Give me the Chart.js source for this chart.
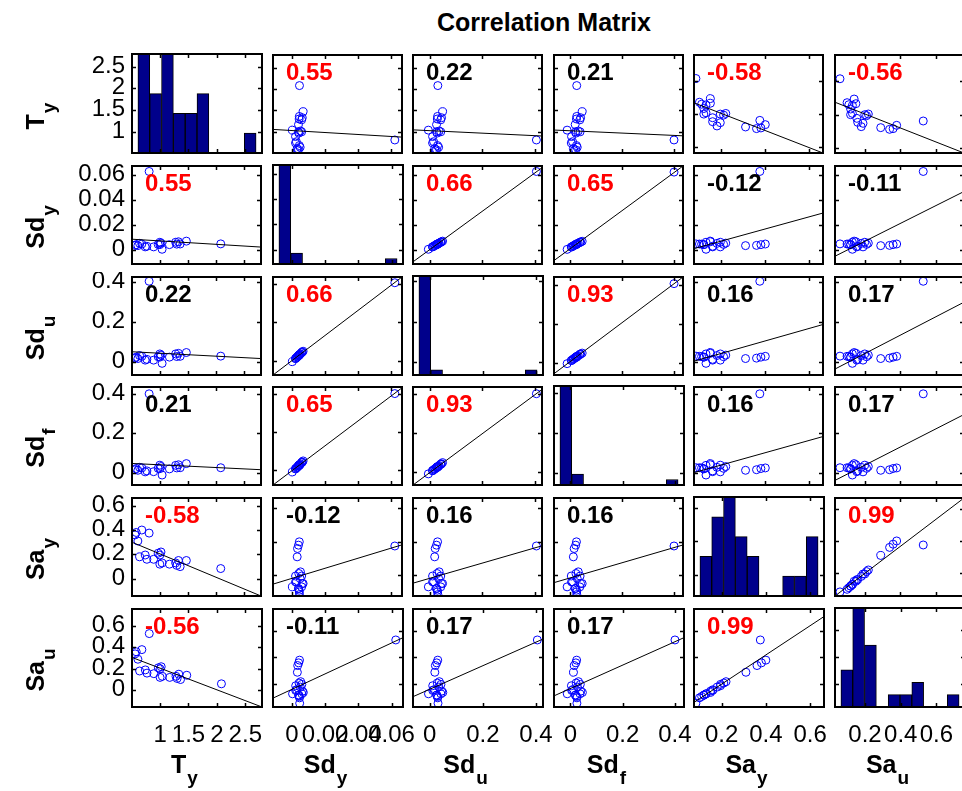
<!DOCTYPE html>
<html>
<head>
<meta charset="utf-8">
<title>Correlation Matrix</title>
<script src="https://cdn.jsdelivr.net/npm/chart.js@4.4.1/dist/chart.umd.min.js"></script>
<style>
  html, body { margin: 0; padding: 0; background: #fff; overflow: hidden; }
  #fig { position: relative; width: 962px; height: 791px; overflow: hidden; background: #fff; }
  #fig canvas { position: absolute; }
  #title { position: absolute; top: 10px; left: 544px; transform: translateX(-50%);
           font: bold 25px "Liberation Sans", Arial, sans-serif; line-height: 25px;
           white-space: nowrap; color: #000; }
</style>
</head>
<body>
<div id="fig"><div id="title">Correlation Matrix</div></div>
<script>
// one entry per record
const Ty  = [0.56, 0.58, 0.61, 0.64, 0.68, 0.81, 0.74, 0.77, 0.89, 1.00, 1.02, 1.00, 1.04, 1.17, 1.28, 1.30, 1.33, 1.36, 1.47, 2.08, 0.97];
const Sdy = [0.0035, 0.0041, 0.0033, 0.0051, 0.0046, 0.0625, 0.0023, 0.0028, 0.0023, 0.0060, 0.0053, 0.0041, 0.0004, 0.0041, 0.0060, 0.0045, 0.0064, 0.0046, 0.0069, 0.0047, 0.0043];
const Sdu = [0.021, 0.026, 0.019, 0.034, 0.030, 0.405, 0.011, 0.015, 0.011, 0.042, 0.036, 0.026, -0.005, 0.026, 0.042, 0.029, 0.045, 0.030, 0.049, 0.031, 0.028];
const Sdf = [0.015, 0.021, 0.012, 0.027, 0.024, 0.400, 0.004, 0.009, 0.005, 0.038, 0.031, 0.020, -0.012, 0.019, 0.037, 0.024, 0.040, 0.025, 0.046, 0.025, 0.022];
const Say = [0.36, 0.38, 0.31, 0.18, 0.40, 0.375, 0.195, 0.16, 0.16, 0.195, 0.22, 0.12, 0.13, 0.12, 0.13, 0.11, 0.15, 0.10, 0.15, 0.084, 0.21];
const Sau = [0.34, 0.36, 0.29, 0.18, 0.38, 0.53, 0.19, 0.16, 0.155, 0.20, 0.22, 0.12, 0.13, 0.12, 0.13, 0.11, 0.15, 0.10, 0.14, 0.06, 0.21];

const varNames = ['T', 'Sd', 'Sd', 'Sd', 'Sa', 'Sa'];
const varSubs  = ['y', 'y', 'u', 'f', 'y', 'u'];

// histogram edges (first / last) and counts, 10 bins each
const histLo = [0.61, -0.0078, -0.041, -0.040, 0.102, 0.065];
const histHi = [2.69, 0.0633, 0.404, 0.412, 0.636, 0.727];
const histTy  = [5, 3, 5, 2, 2, 3, 0, 0, 0, 1];
const histSdy = [18, 2, 0, 0, 0, 0, 0, 0, 0, 1];
const histSdu = [19, 1, 0, 0, 0, 0, 0, 0, 0, 1];
const histSdf = [18, 2, 0, 0, 0, 0, 0, 0, 0, 1];
const histSay = [2, 4, 5, 3, 2, 0, 0, 1, 1, 3];
const histSau = [3, 8, 5, 0, 1, 1, 2, 0, 0, 1];

// coefficients printed in the panels (row by row)
const corrTy  = [null, 0.55, 0.22, 0.21, -0.58, -0.56];
const corrSdy = [0.55, null, 0.66, 0.65, -0.12, -0.11];
const corrSdu = [0.22, 0.66, null, 0.93, 0.16, 0.17];
const corrSdf = [0.21, 0.65, 0.93, null, 0.16, 0.17];
const corrSay = [-0.58, -0.12, 0.16, 0.16, null, 0.99];
const corrSau = [-0.56, -0.11, 0.17, 0.17, 0.99, null];
const sigLevel = 0.43;

const series = [Ty, Sdy, Sdu, Sdf, Say, Sau];
const hists = [histTy, histSdy, histSdu, histSdf, histSay, histSau];
const corr = [corrTy, corrSdy, corrSdu, corrSdf, corrSay, corrSau];
const N = series.length;

// panel grid
const COL_X = [124, 265, 405, 546, 686, 827];
const ROW_Y = [54, 165, 276, 386, 497, 608];
const PW = 138, PH = 107, PAD = 4, FIG_H = 791;
const LABEL_ROOM = 34;   // bottom row canvases are wider so tick labels can spill over
const FONT = '"Liberation Sans", Arial, Helvetica, sans-serif';

function limits(k) {
  const span = histHi[k] - histLo[k];
  return [histLo[k] - 0.05 * span, histHi[k] + 0.05 * span];
}

function lsq(xs, ys) {
  const n = xs.length;
  const mx = xs.reduce((s, v) => s + v, 0) / n;
  const my = ys.reduce((s, v) => s + v, 0) / n;
  let sxy = 0, sxx = 0;
  for (let k = 0; k < n; k++) { sxy += (xs[k] - mx) * (ys[k] - my); sxx += (xs[k] - mx) ** 2; }
  const b = sxy / sxx;
  return x => my + b * (x - mx);
}

// smallest 1-2-5 step that leaves at most 4 ticks inside the range
function tickStep(min, max) {
  for (let e = -4; e <= 2; e++) {
    for (const m of [1, 2, 5]) {
      const s = m * Math.pow(10, e);
      const n = Math.floor(max / s + 1e-9) - Math.ceil(min / s - 1e-9) + 1;
      if (n <= 4) return s;
    }
  }
  return 1;
}

const fmt = v => String(parseFloat(v.toFixed(6)));

function axisCfg(min, max, pos) {
  return {
    type: 'linear', position: pos, min, max, offset: false, display: true,
    ticks: { display: false, stepSize: tickStep(min, max), includeBounds: false },
    grid: { display: false }, border: { display: false }
  };
}

function drawName(ctx, x, y, k, vertical) {
  const main = 'bold 25px ' + FONT, sub = 'bold 19px ' + FONT;
  ctx.save();
  ctx.translate(x, y);
  if (vertical) ctx.rotate(-Math.PI / 2);
  ctx.fillStyle = '#000';
  ctx.textAlign = 'left';
  ctx.textBaseline = 'alphabetic';
  ctx.font = main;
  const w1 = ctx.measureText(varNames[k]).width;
  ctx.font = sub;
  const w2 = ctx.measureText(varSubs[k]).width;
  const x0 = -(w1 + w2) / 2 - 9;
  ctx.font = main;
  ctx.fillText(varNames[k], x0, 0);
  ctx.font = sub;
  ctx.fillText(varSubs[k], x0 + w1 + 1, 11);
  ctx.restore();
}

const framePlugin = {
  id: 'frame',
  afterDraw(chart, args, o) {
    const ctx = chart.ctx, a = chart.chartArea;
    const xs = chart.scales.x, ys = chart.scales[o.tickAxis];
    ctx.save();
    // tick marks point inward on every side of the box
    ctx.strokeStyle = '#000';
    ctx.lineWidth = 1.5;
    ctx.beginPath();
    for (const t of xs.ticks) {
      const p = Math.round(xs.getPixelForValue(t.value)) + 0.5;
      ctx.moveTo(p, a.top); ctx.lineTo(p, a.top + 4);
      ctx.moveTo(p, a.bottom); ctx.lineTo(p, a.bottom - 4);
    }
    for (const t of ys.ticks) {
      const p = Math.round(ys.getPixelForValue(t.value)) + 0.5;
      ctx.moveTo(a.left, p); ctx.lineTo(a.left + 4, p);
      ctx.moveTo(a.right, p); ctx.lineTo(a.right - 4, p);
    }
    ctx.stroke();
    ctx.lineWidth = 2;
    ctx.strokeRect(a.left, a.top, a.right - a.left, a.bottom - a.top);

    const r = corr[o.row][o.col];
    if (r !== null) {
      ctx.font = 'bold 24px ' + FONT;
      ctx.fillStyle = Math.abs(r) >= sigLevel ? '#ff0000' : '#000';
      ctx.textAlign = 'left';
      ctx.textBaseline = 'alphabetic';
      ctx.fillText(r.toFixed(2), a.left + 13, a.top + 25);
    }

    ctx.fillStyle = '#000';
    ctx.font = '24px ' + FONT;
    ctx.textBaseline = 'alphabetic';
    if (o.col === 0) {
      ctx.textAlign = 'right';
      for (const t of ys.ticks) ctx.fillText(fmt(t.value), a.left - 7, ys.getPixelForValue(t.value) + 6);
      drawName(ctx, 43.5 - o.ox, ROW_Y[o.row] + PH / 2 - o.oy, o.row, true);
    }
    if (o.row === N - 1) {
      ctx.font = '24px ' + FONT;
      ctx.textAlign = 'center';
      for (const t of xs.ticks) ctx.fillText(fmt(t.value), xs.getPixelForValue(t.value), 742 - o.oy);
      drawName(ctx, COL_X[o.col] + PW / 2 - o.ox, 773 - o.oy, o.col, false);
    }
    ctx.restore();
  }
};

const fig = document.getElementById('fig');

for (let i = 0; i < N; i++) {
  for (let j = 0; j < N; j++) {
    const lastRow = i === N - 1;
    const left = j === 0 ? 0 : COL_X[j] - (lastRow ? LABEL_ROOM : PAD);
    const top = ROW_Y[i] - PAD;
    const right = COL_X[j] + PW + (lastRow ? LABEL_ROOM : PAD);
    const bottom = lastRow ? FIG_H : ROW_Y[i] + PH + PAD;
    const cv = document.createElement('canvas');
    cv.width = right - left;
    cv.height = bottom - top;
    cv.style.left = left + 'px';
    cv.style.top = top + 'px';
    fig.appendChild(cv);

    const xl = limits(j), yl = limits(i);
    const padding = {
      left: COL_X[j] - left, top: PAD,
      right: right - (COL_X[j] + PW), bottom: bottom - (ROW_Y[i] + PH)
    };
    const frame = { row: i, col: j, ox: left, oy: top, tickAxis: 'y' };
    let cfg;

    if (i === j) {
      const h = hists[i];
      const w = (histHi[i] - histLo[i]) / h.length;
      frame.tickAxis = 'yv';
      cfg = {
        type: 'bar',
        data: {
          datasets: [{
            data: h.map((c, k) => ({ x: histLo[i] + (k + 0.5) * w, y: c })),
            backgroundColor: '#00008b', borderColor: '#000', borderWidth: 1,
            borderSkipped: false, barPercentage: 1, categoryPercentage: 1, grouped: false
          }]
        },
        options: {
          scales: {
            x: axisCfg(xl[0], xl[1], 'bottom'),
            y: { type: 'linear', min: 0, max: Math.max(...h), display: false },
            yv: axisCfg(yl[0], yl[1], 'left')
          }
        }
      };
    } else {
      const xs = series[j], ys = series[i];
      const fit = lsq(xs, ys);
      const y0 = fit(xl[0]), y1 = fit(xl[1]);
      const lo = Math.min(yl[0], y0, y1), hi = Math.max(yl[1], y0, y1);
      cfg = {
        type: 'scatter',
        data: {
          datasets: [
            { data: [{ x: xl[0], y: y0 }, { x: xl[1], y: y1 }], showLine: true,
              borderColor: '#000', borderWidth: 1, pointRadius: 0 },
            { data: xs.map((x, k) => ({ x, y: ys[k] })), showLine: false,
              pointRadius: 4, pointBorderWidth: 1, pointBorderColor: '#0000ff',
              pointBackgroundColor: 'rgba(0,0,0,0)' }
          ]
        },
        options: {
          scales: {
            x: axisCfg(xl[0], xl[1], 'bottom'),
            y: axisCfg(lo, hi, 'left')
          }
        }
      };
    }

    Object.assign(cfg.options, {
      responsive: false, devicePixelRatio: 1, animation: false, events: [],
      layout: { padding },
      plugins: { legend: { display: false }, tooltip: { enabled: false }, frame }
    });
    cfg.plugins = [framePlugin];
    new Chart(cv, cfg);
  }
}
</script>
</body>
</html>
